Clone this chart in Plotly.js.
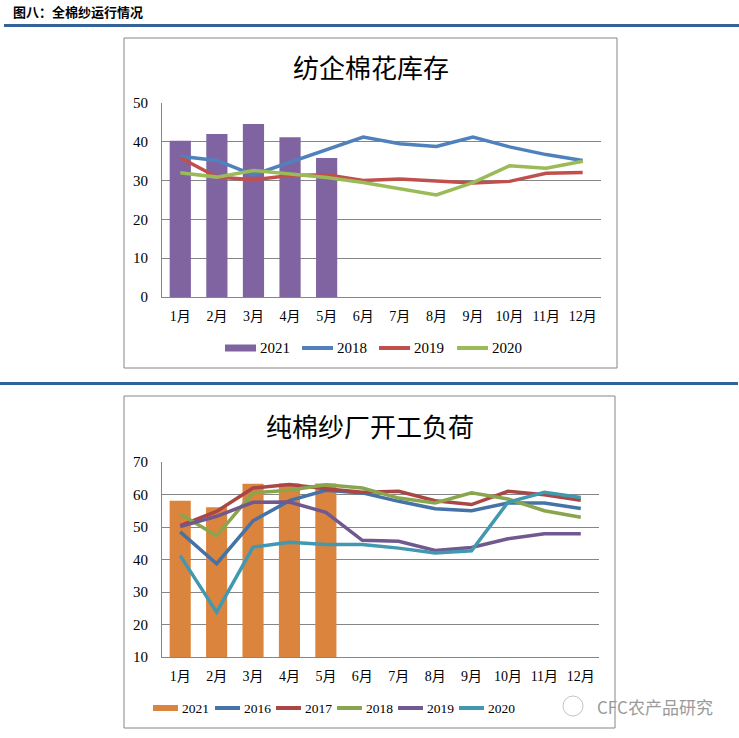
<!DOCTYPE html>
<html>
<head>
<meta charset="utf-8">
<script src="https://cdn.plot.ly/plotly-3.0.1.min.js"></script>
<style>html,body{margin:0;padding:0;background:#fff;}#chart{width:739px;height:738px;}</style>
</head>
<body>
<div id="chart"></div>
<script>
// ---- data ----
const months = ["1月","2月","3月","4月","5月","6月","7月","8月","9月","10月","11月","12月"];

// 纺企棉花库存
const stock2021 = [40.3, 42.0, 44.6, 41.2, 35.8];
const stock2018 = [36.3, 35.2, 31.5, 34.7, 37.8, 41.2, 39.5, 38.8, 41.2, 38.7, 36.7, 35.2];
const stock2019 = [35.9, 30.9, 30.2, 31.3, 31.5, 30.0, 30.4, 29.9, 29.4, 29.8, 31.9, 32.1];
const stock2020 = [32.0, 30.9, 32.6, 31.8, 30.8, 29.5, 27.9, 26.3, 29.5, 33.8, 33.2, 35.0];

// 纯棉纱厂开工负荷
const load2021 = [58.1, 56.1, 63.3, 63.4, 63.4];
const load2016 = [48.5, 38.7, 51.9, 58.1, 61.3, 60.5, 57.9, 55.6, 55.0, 57.4, 57.4, 55.7];
const load2017 = [50.4, 54.8, 62.0, 63.1, 61.8, 60.7, 61.0, 58.1, 56.9, 61.0, 59.9, 58.2];
const load2018 = [54.0, 47.3, 60.5, 61.3, 63.0, 62.0, 58.9, 57.4, 60.5, 58.6, 55.0, 53.0];
const load2019 = [50.1, 53.3, 57.6, 57.7, 54.5, 45.9, 45.6, 42.8, 43.7, 46.4, 47.9, 47.9];
const load2020 = [41.2, 23.8, 43.8, 45.3, 44.6, 44.6, 43.5, 42.0, 42.7, 57.6, 60.7, 59.1];

const topYTicks = [0, 10, 20, 30, 40, 50];
const botYTicks = [10, 20, 30, 40, 50, 60, 70];

const topNames = ["2021", "2018", "2019", "2020"];
const topColors = ["#8064A2", "#4F81BD", "#C0504D", "#9BBB59"];
const botNames = ["2021", "2016", "2017", "2018", "2019", "2020"];
const botColors = ["#DB843D", "#4572A7", "#AA4643", "#89A54E", "#71588F", "#4198AF"];

// ---- helpers ----
const W = 739, H = 738;
const px = x => x / W;
const py = y => 1 - y / H;
const serif = "Liberation Serif, Noto Sans CJK SC, serif";
const cjk = "Noto Sans CJK SC, sans-serif";
const lw = 3.5;

function line(name, y, color, xa, ya) {
  return {type: "scatter", mode: "lines", name: name, x: months.slice(0, y.length), y: y,
    line: {color: color, width: lw}, xaxis: xa, yaxis: ya, showlegend: false};
}
function bar(name, y, color, xa, ya) {
  return {type: "bar", name: name, x: months.slice(0, y.length), y: y,
    marker: {color: color}, xaxis: xa, yaxis: ya, showlegend: false};
}

const data = [
  bar(topNames[0], stock2021, topColors[0], "x", "y"),
  line(topNames[1], stock2018, topColors[1], "x", "y"),
  line(topNames[2], stock2019, topColors[2], "x", "y"),
  line(topNames[3], stock2020, topColors[3], "x", "y"),
  bar(botNames[0], load2021, botColors[0], "x2", "y2"),
  line(botNames[1], load2016, botColors[1], "x2", "y2"),
  line(botNames[2], load2017, botColors[2], "x2", "y2"),
  line(botNames[3], load2018, botColors[3], "x2", "y2"),
  line(botNames[4], load2019, botColors[4], "x2", "y2"),
  line(botNames[5], load2020, botColors[5], "x2", "y2")
];

const xBase = {type: "category", categoryorder: "array", categoryarray: months,
  range: [-0.5, 11.5], showgrid: false, showline: true, linecolor: "#868686", linewidth: 1,
  ticks: "", tickfont: {family: serif, size: 14, color: "#000"}, fixedrange: true, zeroline: false,
  ticklabelstandoff: 6};
const yBase = {showgrid: true, gridcolor: "#868686", gridwidth: 1, showline: true,
  linecolor: "#868686", linewidth: 1, ticks: "", zeroline: false,
  tickfont: {family: serif, size: 15, color: "#000"}, fixedrange: true, ticklabelstandoff: 10};

const shapes = [
  {type: "rect", xref: "paper", yref: "paper", x0: px(4), x1: px(739), y0: py(27), y1: py(24),
    fillcolor: "#34639A", line: {width: 0}},
  {type: "rect", xref: "paper", yref: "paper", x0: px(0), x1: px(738), y0: py(385), y1: py(382),
    fillcolor: "#34639A", line: {width: 0}},
  {type: "rect", xref: "paper", yref: "paper", x0: px(124), x1: px(617), y0: py(368), y1: py(38),
    line: {color: "#868686", width: 1}},
  {type: "rect", xref: "paper", yref: "paper", x0: px(124), x1: px(615), y0: py(728), y1: py(396),
    line: {color: "#868686", width: 1}},
  {type: "circle", xref: "paper", yref: "paper", x0: px(563), x1: px(583), y0: py(716), y1: py(696),
    line: {color: "#c4c4c4", width: 1}}
];
const annotations = [
  {text: "<b>图八：全棉纱运行情况</b>", xref: "paper", yref: "paper", x: px(11), y: py(12),
    xanchor: "left", yanchor: "middle", showarrow: false, font: {family: cjk, size: 13, color: "#000"}},
  {text: "纺企棉花库存", xref: "paper", yref: "paper", x: px(371), y: py(66),
    xanchor: "center", yanchor: "middle", showarrow: false, font: {family: cjk, size: 26, color: "#000"}},
  {text: "纯棉纱厂开工负荷", xref: "paper", yref: "paper", x: px(370), y: py(425),
    xanchor: "center", yanchor: "middle", showarrow: false, font: {family: cjk, size: 26, color: "#000"}},
  {text: "CFC农产品研究", xref: "paper", yref: "paper", x: px(595), y: py(706),
    xanchor: "left", yanchor: "middle", showarrow: false, font: {family: cjk, size: 17, color: "#9a9a9a"}}
];

// custom legends (compact, like the original)
function addLegend(names, colors, starts, sw, yc, barH, fontSize) {
  names.forEach((n, i) => {
    const x0 = starts[i], x1 = starts[i] + sw;
    if (i === 0) {
      shapes.push({type: "rect", xref: "paper", yref: "paper", x0: px(x0), x1: px(x1),
        y0: py(yc + barH / 2), y1: py(yc - barH / 2), fillcolor: colors[i], line: {width: 0}});
    } else {
      shapes.push({type: "line", xref: "paper", yref: "paper", x0: px(x0), x1: px(x1),
        y0: py(yc), y1: py(yc), line: {color: colors[i], width: 4}});
    }
    annotations.push({text: n, xref: "paper", yref: "paper", x: px(x1 + 2), y: py(yc),
      xanchor: "left", yanchor: "middle", showarrow: false,
      font: {family: serif, size: fontSize, color: "#000"}});
  });
}
addLegend(topNames, topColors, [225, 302, 379, 457], 31, 348, 7, 15);
addLegend(botNames, botColors, [153, 215, 276, 337, 398, 459], 25, 708, 6, 13.5);

const layout = {
  width: W, height: H,
  margin: {l: 0, r: 0, t: 0, b: 0},
  paper_bgcolor: "#fff", plot_bgcolor: "rgba(0,0,0,0)",
  bargap: 0.42,
  showlegend: false,
  xaxis: Object.assign({}, xBase, {domain: [px(162), px(601)], anchor: "y"}),
  yaxis: Object.assign({}, yBase, {domain: [py(297), py(103)], range: [0, 50], tickvals: topYTicks, anchor: "x"}),
  xaxis2: Object.assign({}, xBase, {domain: [px(162), px(599)], anchor: "y2"}),
  yaxis2: Object.assign({}, yBase, {domain: [py(657), py(462)], range: [10, 70], tickvals: botYTicks, anchor: "x2"}),
  shapes: shapes,
  annotations: annotations
};

Plotly.newPlot("chart", data, layout, {staticPlot: true, displayModeBar: false});
</script>
</body>
</html>
